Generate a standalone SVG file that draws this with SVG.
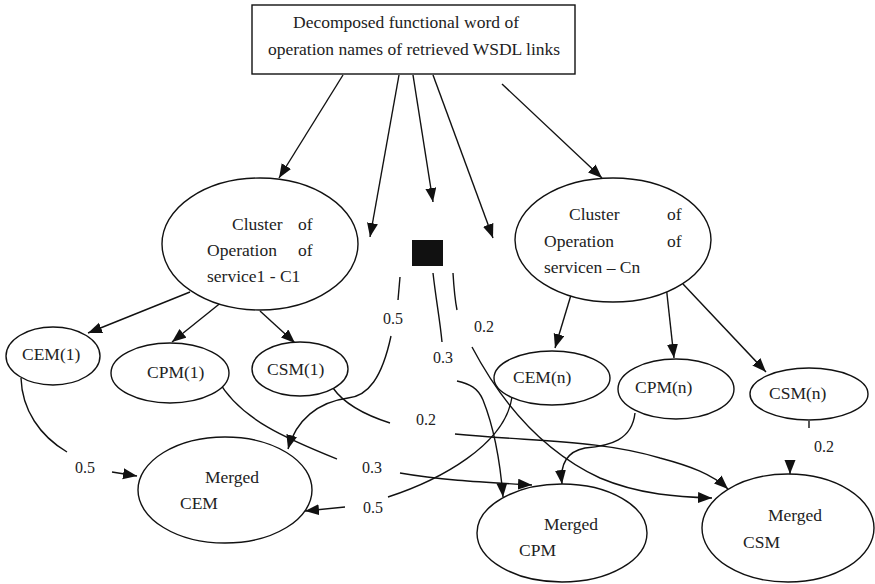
<svg xmlns="http://www.w3.org/2000/svg" width="875" height="584" viewBox="0 0 875 584">
<defs>
<marker id="ah" markerUnits="userSpaceOnUse" markerWidth="16" markerHeight="12" refX="14" refY="5.5" orient="auto">
<path d="M0,0 L14,5.5 L0,11 z" fill="#111"/>
</marker>
<style>
.n{fill:#fff;stroke:#111;stroke-width:1.4}
.t{font-family:"Liberation Serif","Times New Roman",serif;font-size:17.5px;fill:#222}
.l{font-family:"Liberation Serif","Times New Roman",serif;font-size:16px;fill:#222}
.c{fill:none;stroke:#111;stroke-width:1.4}
.a{marker-end:url(#ah)}
</style>
</defs>
<rect width="875" height="584" fill="#fff"/>

<g id="connectors">
<path class="c a" d="M343,75 L279,178"/>
<path class="c a" d="M399,75 L370,237"/>
<path class="c a" d="M413,75 L433,202"/>
<path class="c a" d="M433,75 L493,238"/>
<path class="c a" d="M502,84 L602,178"/>
<path class="c a" d="M190,292 L88,333"/>
<path class="c a" d="M233,293 L172,342"/>
<path class="c a" d="M260,311 L295,343"/>
<path class="c a" d="M574,285 L555,348"/>
<path class="c a" d="M666,285 L674,358"/>
<path class="c a" d="M683,284 L766,372"/>
<path class="c" d="M21,378 C22,410 40,436 67,452"/>
<path class="c a" d="M112,472 L137,476"/>
<path class="c" d="M218,380 C240,420 290,440 337,459"/>
<path class="c a" d="M400,473 C440,480 480,482 532,485"/>
<path class="c" d="M333,388 C345,405 365,415 390,423"/>
<path class="c a" d="M455,434 C540,442 600,440 660,458 C690,466 712,474 728,489"/>
<path class="c" d="M400,277 L398,300"/>
<path class="c a" d="M391,336 C382,378 368,396 348,398 C318,402 296,420 288,449"/>
<path class="c" d="M433,273 C436,300 440,320 442,342"/>
<path class="c a" d="M457,381 C470,384 478,388 483,400 C495,430 500,460 503,497"/>
<path class="c" d="M453,273 C454,290 455,300 457,310"/>
<path class="c a" d="M472,347 C500,400 540,450 600,478 C640,495 680,497 712,498"/>
<path class="c" d="M512,397 C505,445 440,480 388,497"/>
<path class="c a" d="M345,507 L305,511"/>
<path class="c a" d="M635,413 C632,440 610,446 585,448 C565,452 560,466 562,484"/>
<path class="c" d="M809,421 L809,428"/>
<path class="c a" d="M790,461 L790,474"/>
<text class="l" x="75" y="473">0.5</text>
<text class="l" x="362" y="473">0.3</text>
<text class="l" x="416" y="425">0.2</text>
<text class="l" x="383" y="324">0.5</text>
<text class="l" x="433" y="363">0.3</text>
<text class="l" x="474" y="332">0.2</text>
<text class="l" x="363" y="513">0.5</text>
<text class="l" x="814" y="452">0.2</text>
</g>

<g id="top">
<rect class="n" x="252" y="5" width="323" height="69"/>
<text class="t" x="293" y="28">Decomposed functional word of</text>
<text class="t" x="268" y="55">operation names of retrieved WSDL links</text>
</g>

<g id="square">
<rect x="412" y="240" width="31" height="26" fill="#111"/>
</g>

<g id="c1">
<ellipse class="n" cx="260" cy="244" rx="98" ry="66"/>
<text class="t" x="232" y="230">Cluster</text>
<text class="t" x="298" y="230">of</text>
<text class="t" x="207" y="256">Operation</text>
<text class="t" x="298" y="256">of</text>
<text class="t" x="207" y="282">service1 - C1</text>
</g>

<g id="cn">
<ellipse class="n" cx="613" cy="240" rx="98" ry="62"/>
<text class="t" x="569" y="220">Cluster</text>
<text class="t" x="667" y="220">of</text>
<text class="t" x="544" y="247">Operation</text>
<text class="t" x="667" y="247">of</text>
<text class="t" x="544" y="273">servicen – Cn</text>
</g>

<g id="cem1">
<ellipse class="n" cx="53" cy="356" rx="47" ry="29"/>
<text class="t" x="22" y="360">CEM(1)</text>
</g>
<g id="cpm1">
<ellipse class="n" cx="170" cy="373" rx="59" ry="30"/>
<text class="t" x="147" y="378">CPM(1)</text>
</g>
<g id="csm1">
<ellipse class="n" cx="300" cy="369" rx="48" ry="27"/>
<text class="t" x="267" y="375">CSM(1)</text>
</g>

<g id="cemn">
<ellipse class="n" cx="552" cy="378" rx="58" ry="27"/>
<text class="t" x="513" y="383">CEM(n)</text>
</g>
<g id="cpmn">
<ellipse class="n" cx="676" cy="389" rx="58" ry="30"/>
<text class="t" x="635" y="393">CPM(n)</text>
</g>
<g id="csmn">
<ellipse class="n" cx="809" cy="394" rx="59" ry="26"/>
<text class="t" x="769" y="399">CSM(n)</text>
</g>

<g id="mcem">
<ellipse class="n" cx="225" cy="490" rx="87" ry="53"/>
<text class="t" x="205" y="483">Merged</text>
<text class="t" x="180" y="509">CEM</text>
</g>
<g id="mcpm">
<ellipse class="n" cx="562" cy="533" rx="85" ry="49"/>
<text class="t" x="544" y="530">Merged</text>
<text class="t" x="519" y="556">CPM</text>
</g>
<g id="mcsm">
<ellipse class="n" cx="788" cy="528" rx="86" ry="54"/>
<text class="t" x="768" y="521">Merged</text>
<text class="t" x="743" y="548">CSM</text>
</g>
</svg>
